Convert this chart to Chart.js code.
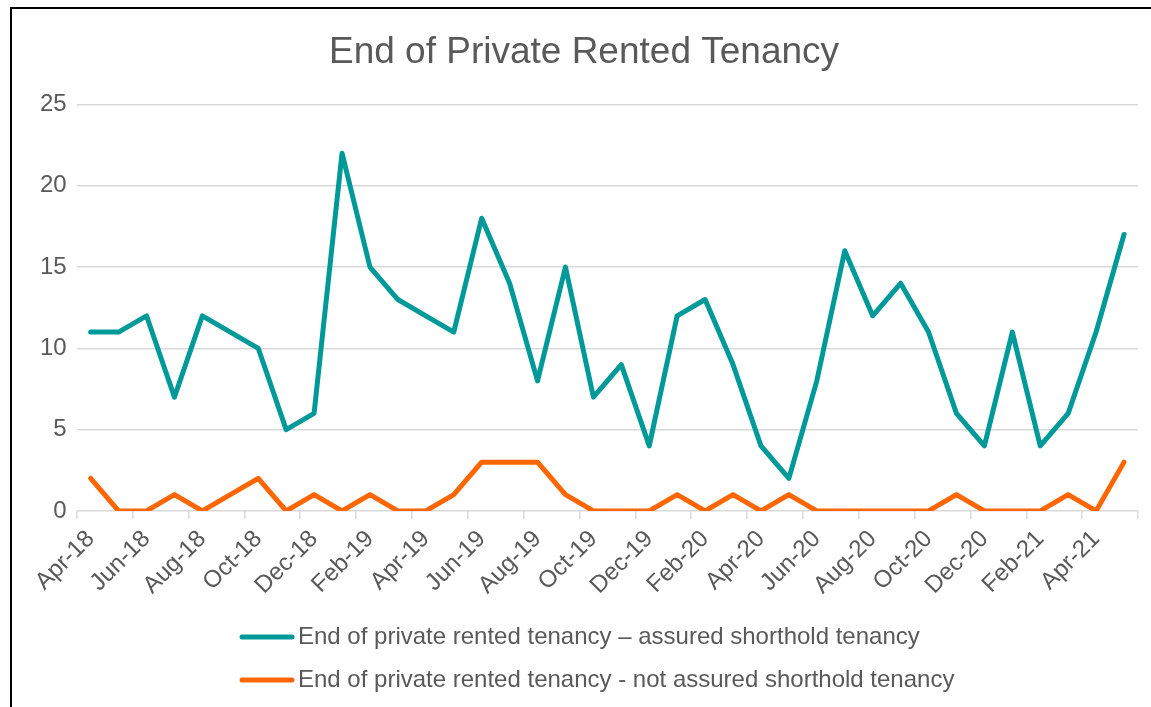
<!DOCTYPE html>
<html><head><meta charset="utf-8">
<script src="https://cdn.jsdelivr.net/npm/chart.js@4"></script>
<style>
html,body{margin:0;padding:0;background:#fff;overflow:hidden;}
#wrap{position:relative;width:1151px;height:707px;}
#frame{position:absolute;left:10px;top:7px;width:1200px;height:800px;border-left:2px solid #000;border-top:2px solid #000;pointer-events:none;}
</style></head><body>
<div id="wrap"><canvas id="c" width="1151" height="707"></canvas><div id="frame"></div></div>
<script>
const months = ['Apr-18','May-18','Jun-18','Jul-18','Aug-18','Sep-18','Oct-18','Nov-18','Dec-18',
  'Jan-19','Feb-19','Mar-19','Apr-19','May-19','Jun-19','Jul-19','Aug-19','Sep-19','Oct-19','Nov-19','Dec-19',
  'Jan-20','Feb-20','Mar-20','Apr-20','May-20','Jun-20','Jul-20','Aug-20','Sep-20','Oct-20','Nov-20','Dec-20',
  'Jan-21','Feb-21','Mar-21','Apr-21','May-21'];
const assuredShorthold = [11,11,12,7,12,11,10,5,6,22,15,13,12,11,18,14,8,15,7,9,4,12,13,9,4,2,8,16,12,14,11,6,4,11,4,6,11,17];
const notAssuredShorthold = [2,0,0,1,0,1,2,0,1,0,1,0,0,1,3,3,3,1,0,0,0,1,0,1,0,1,0,0,0,0,0,1,0,0,0,1,0,3];
const yTicks = [0,5,10,15,20,25];
const seriesNames = ['End of private rented tenancy \u2013 assured shorthold tenancy','End of private rented tenancy - not assured shorthold tenancy'];
const seriesColors = ['#009999','#FF6600'];
const chartTitle = 'End of Private Rented Tenancy';

const FONT = "'Liberation Sans', Arial, sans-serif";
const TXT = '#595959';

function legendLine(color) {
  const cv = document.createElement('canvas');
  cv.width = 56; cv.height = 8;
  const g = cv.getContext('2d');
  g.strokeStyle = color; g.lineWidth = 5; g.lineCap = 'round';
  g.beginPath(); g.moveTo(3, 4); g.lineTo(53, 4); g.stroke();
  return cv;
}

const legendShift = {
  id: 'legendShift',
  beforeDraw(chart) {
    const lg = chart.legend;
    if (lg) { lg.left = 248 - lg.options.labels.padding; }
  }
};

new Chart(document.getElementById('c'), {
  type: 'line',
  data: {
    labels: months,
    datasets: [
      { label: seriesNames[0], data: assuredShorthold, borderColor: seriesColors[0], backgroundColor: seriesColors[0],
        borderWidth: 5, pointRadius: 0, pointStyle: legendLine(seriesColors[0]), tension: 0,
        borderCapStyle: 'round', borderJoinStyle: 'round' },
      { label: seriesNames[1], data: notAssuredShorthold, borderColor: seriesColors[1], backgroundColor: seriesColors[1],
        borderWidth: 5, pointRadius: 0, pointStyle: legendLine(seriesColors[1]), tension: 0,
        borderCapStyle: 'round', borderJoinStyle: 'round' }
    ]
  },
  options: {
    responsive: false,
    animation: false,
    layout: { padding: { top: 0, left: 30, right: 13, bottom: 5 } },
    plugins: {
      title: { display: true, text: chartTitle, color: TXT, font: { family: FONT, size: 37, weight: 'normal' },
        padding: { top: 31, bottom: 29 } },
      legend: { position: 'bottom', align: 'start',
        labels: { color: TXT, font: { family: FONT, size: 24 }, usePointStyle: true,
          pointStyleWidth: 38, boxHeight: 24, padding: 19 } },
      tooltip: { enabled: false }
    },
    scales: {
      x: {
        offset: true,
        border: { display: false },
        grid: { offset: true, drawOnChartArea: false, drawTicks: true, tickLength: 8, lineWidth: 1.5,
          color: ctx => (ctx.index === undefined || ctx.index % 2 === 0) ? '#d9d9d9' : 'rgba(0,0,0,0)' },
        ticks: { autoSkip: false, maxRotation: 45, minRotation: 45, padding: 6, color: TXT,
          font: { family: FONT, size: 24 },
          callback: function(v, i) { return i % 2 === 0 ? months[i] : ''; } },
        afterFit: scale => { scale.paddingLeft = 20; }
      },
      y: {
        min: 0, max: 25,
        border: { display: false },
        grid: { color: '#d9d9d9', lineWidth: 1.5, drawTicks: false },
        afterBuildTicks: axis => { axis.ticks = yTicks.map(v => ({ value: v })); },
        ticks: { padding: 10, color: TXT, font: { family: FONT, size: 24 } }
      }
    }
  },
  plugins: [legendShift]
});
</script>
</body></html>
